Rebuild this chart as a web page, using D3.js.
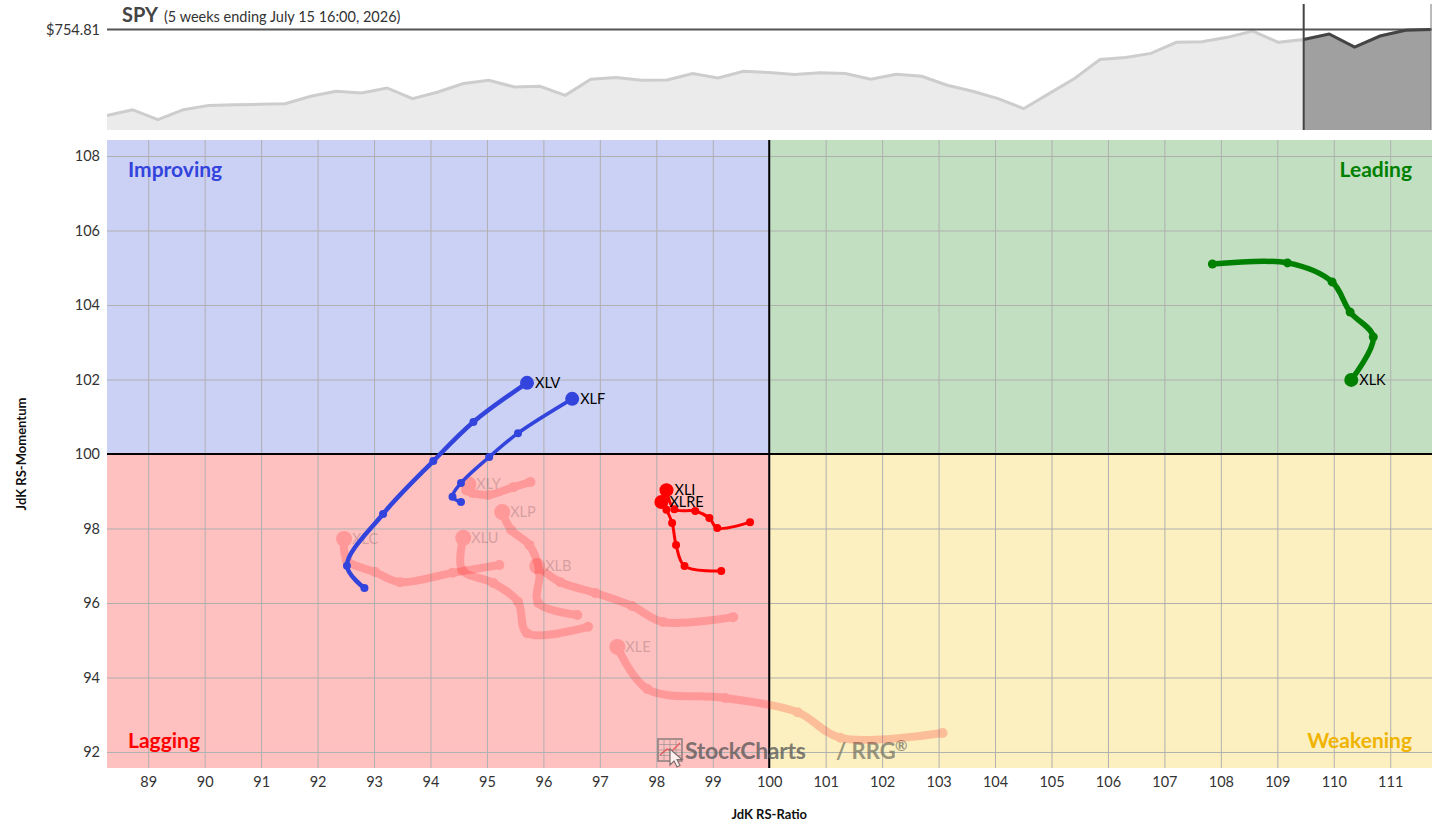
<!DOCTYPE html>
<html>
<head>
<meta charset="utf-8">
<script src="https://cdn.jsdelivr.net/npm/d3@7.9.0/dist/d3.min.js"></script>
<style>
  body { margin: 0; background: #fff; font-family: Lato, "Open Sans", sans-serif; }
  svg text { font-family: Lato, "Open Sans", sans-serif; }
</style>
</head>
<body>
<svg id="chart" width="1437" height="826"></svg>
<script>
// SPY weekly closes shown in the header strip (last 6 = the 5-week tail window)
const spyClose = [677.86, 682.99, 673.99, 682.99, 686.86, 687.49, 687.8, 688.39, 694.96, 699.46,
  697.93, 702.43, 692.89, 698.83, 706.39, 709.36, 703.33, 703.96, 695.86, 710.26,
  711.79, 709.36, 709.6, 715.39, 711.43, 717.46, 716.29, 714.49, 716.0, 715.39,
  710.26, 714.76, 712.96, 704.86, 699.46, 692.89, 683.89, 697.39, 710.89, 727.99,
  729.79, 733.39, 743.29, 743.83, 747.79, 753.46, 743.29, 745.81, 750.76, 739.06,
  748.96, 754.2, 754.81];
const tailWeeks = 5;
const lastPrice = 754.81;

const ratioTicks = d3.range(89, 112);
const momentumTicks = d3.range(92, 109, 2);

// [RS-Ratio, RS-Momentum], oldest -> newest (head)
const XLK = [[107.85, 105.10], [109.18, 105.13], [109.97, 104.62], [110.29, 103.81], [110.70, 103.14], [110.31, 101.99]];
const XLV = [[92.83, 96.40], [92.52, 97.00], [93.16, 98.39], [94.05, 99.81], [94.76, 100.86], [95.71, 101.91]];
const XLF = [[94.54, 98.71], [94.39, 98.85], [94.54, 99.22], [95.04, 99.92], [95.55, 100.56], [96.51, 101.48]];
const XLI = [[99.66, 98.17], [99.08, 98.01], [98.94, 98.28], [98.69, 98.47], [98.32, 98.52], [98.18, 99.03]];
const XLRE = [[99.15, 96.86], [98.50, 96.99], [98.35, 97.56], [98.28, 98.15], [98.18, 98.50], [98.09, 98.71]];
const XLY = [[95.77, 99.25], [95.47, 99.11], [95.02, 98.90], [94.75, 98.95], [94.63, 99.03], [94.67, 99.19]];
const XLP = [[96.60, 95.68], [95.91, 96.00], [95.93, 96.83], [95.75, 97.56], [95.43, 97.96], [95.27, 98.44]];
const XLC = [[95.22, 97.02], [94.39, 96.81], [93.46, 96.56], [93.02, 96.83], [92.52, 97.15], [92.47, 97.72]];
const XLU = [[96.79, 95.36], [95.71, 95.19], [95.55, 96.03], [95.11, 96.54], [94.56, 96.89], [94.58, 97.75]];
const XLB = [[99.36, 95.62], [98.12, 95.49], [97.57, 95.92], [96.92, 96.27], [96.30, 96.56], [95.89, 96.99]];
const XLE = [[103.07, 92.51], [101.26, 92.38], [100.50, 93.07], [99.22, 93.45], [97.84, 93.69], [97.31, 94.82]];

const activeNames = ['XLK', 'XLV', 'XLF', 'XLI', 'XLRE'];
const fadedNames = ['XLY', 'XLP', 'XLC', 'XLU', 'XLB', 'XLE'];
const trails = { XLK, XLV, XLF, XLI, XLRE, XLY, XLP, XLC, XLU, XLB, XLE };

const quadrants = [
  { name: 'Improving', fill: '#cbd0f5', text: '#3344dd', xs: [88, 100], ys: [100, 109] },
  { name: 'Leading', fill: '#c2dfc2', text: '#008000', xs: [100, 112], ys: [100, 109] },
  { name: 'Lagging', fill: '#ffc0c0', text: '#ff0000', xs: [88, 100], ys: [91, 100] },
  { name: 'Weakening', fill: '#fcefc0', text: '#f0b400', xs: [100, 112], ys: [91, 100] },
];

const styles = {
  XLK: { color: '#008000', width: 5.5, dot: 4.5, head: 7 },
  XLV: { color: '#3344dd', width: 4.5, dot: 4, head: 7 },
  XLF: { color: '#3344dd', width: 3.5, dot: 4, head: 7 },
  XLI: { color: '#ff0000', width: 3, dot: 4, head: 7 },
  XLRE: { color: '#ff0000', width: 3, dot: 4, head: 7 },
};

const svg = d3.select('#chart');
const plot = { left: 107, right: 1432, top: 140, bottom: 768 };

const x = d3.scaleLinear().domain([88.27, 111.74]).range([plot.left, plot.right]);
const y = d3.scaleLinear().domain([91.57, 108.43]).range([plot.bottom, plot.top]);

// ---------- header strip ----------
const head = { left: 107, right: 1431, top: 30, bottom: 130 };
const hx = d3.scaleLinear().domain([0, spyClose.length - 1]).range([head.left, head.right]);
const hy = d3.scaleLinear().domain([lastPrice - 100 * 0.9, lastPrice]).range([head.bottom, head.top - 0.5]);
const split = spyClose.length - 1 - tailWeeks;

const area = d3.area().x((d, i) => hx(i)).y0(head.bottom).y1((d) => hy(d));
const line = d3.line().x((d, i) => hx(i)).y((d) => hy(d));

svg.append('path').attr('d', area(spyClose)).attr('fill', '#ebebeb');
svg.append('path').attr('d', line(spyClose)).attr('fill', 'none')
  .attr('stroke', '#cdcdcd').attr('stroke-width', 3);

const tailPts = spyClose.map((d, i) => [i, d]).slice(split);
const areaT = d3.area().x((d) => hx(d[0])).y0(head.bottom).y1((d) => hy(d[1]));
const lineT = d3.line().x((d) => hx(d[0])).y((d) => hy(d[1]));
svg.append('path').attr('d', areaT(tailPts)).attr('fill', '#a0a0a0');

svg.append('line').attr('x1', head.left).attr('x2', head.right + 1)
  .attr('y1', hy(lastPrice)).attr('y2', hy(lastPrice))
  .attr('stroke', '#555').attr('stroke-width', 2);
svg.append('path').attr('d', lineT(tailPts)).attr('fill', 'none')
  .attr('stroke', '#444').attr('stroke-width', 3);

svg.append('line').attr('x1', hx(split)).attr('x2', hx(split)).attr('y1', 4).attr('y2', head.bottom)
  .attr('stroke', '#444').attr('stroke-width', 2);
svg.append('line').attr('x1', head.right).attr('x2', head.right).attr('y1', 4).attr('y2', head.bottom)
  .attr('stroke', '#777').attr('stroke-width', 1);

svg.append('text').attr('x', 100).attr('y', 35).attr('text-anchor', 'end')
  .attr('font-size', 14.5).attr('fill', '#333').text('$' + d3.format('.2f')(lastPrice));

const title = svg.append('text').attr('x', 122).attr('y', 22).attr('fill', '#444');
title.append('tspan').attr('font-size', 20).attr('font-weight', 'bold').text('SPY');
title.append('tspan').attr('dx', 6).attr('font-size', 14.5).attr('fill', '#333')
  .text('(5 weeks ending July 15 16:00, 2026)');

// ---------- quadrants ----------
svg.append('clipPath').attr('id', 'plotclip').append('rect')
  .attr('x', plot.left).attr('y', plot.top)
  .attr('width', plot.right - plot.left).attr('height', plot.bottom - plot.top);

const g = svg.append('g').attr('clip-path', 'url(#plotclip)');

g.selectAll('rect.q').data(quadrants).join('rect').attr('class', 'q')
  .attr('x', (d) => x(d.xs[0])).attr('width', (d) => x(d.xs[1]) - x(d.xs[0]))
  .attr('y', (d) => y(d.ys[1])).attr('height', (d) => y(d.ys[0]) - y(d.ys[1]))
  .attr('fill', (d) => d.fill);

g.append('g').attr('transform', `translate(0,${plot.bottom})`)
  .call(d3.axisBottom(x).tickValues(ratioTicks).tickSize(-(plot.bottom - plot.top)).tickFormat(''))
  .call((a) => a.select('.domain').remove())
  .call((a) => a.selectAll('line').attr('stroke', '#b0b0b0').attr('stroke-width', 1));
g.append('g').attr('transform', `translate(${plot.left},0)`)
  .call(d3.axisLeft(y).tickValues(momentumTicks).tickSize(-(plot.right - plot.left)).tickFormat(''))
  .call((a) => a.select('.domain').remove())
  .call((a) => a.selectAll('line').attr('stroke', '#b0b0b0').attr('stroke-width', 1));

g.append('line').attr('x1', x(100)).attr('x2', x(100)).attr('y1', plot.top).attr('y2', plot.bottom)
  .attr('stroke', '#000').attr('stroke-width', 2);
g.append('line').attr('x1', plot.left).attr('x2', plot.right).attr('y1', y(100)).attr('y2', y(100))
  .attr('stroke', '#000').attr('stroke-width', 2);

// quadrant names
const qlab = [
  { q: quadrants[0], x: plot.left + 21, y: 177, anchor: 'start' },
  { q: quadrants[1], x: plot.right - 20, y: 177, anchor: 'end' },
  { q: quadrants[2], x: plot.left + 21, y: 748, anchor: 'start' },
  { q: quadrants[3], x: plot.right - 20, y: 748, anchor: 'end' },
];
g.selectAll('text.ql').data(qlab).join('text').attr('class', 'ql')
  .attr('x', (d) => d.x).attr('y', (d) => d.y).attr('text-anchor', (d) => d.anchor)
  .attr('font-size', 21).attr('font-weight', 'bold').attr('fill', (d) => d.q.text)
  .text((d) => d.q.name);

// watermark
const wm = g.append('g').attr('opacity', 0.75);
const ix = 658, iy = 739;
wm.append('rect').attr('x', ix).attr('y', iy).attr('width', 24).attr('height', 22)
  .attr('fill', 'none').attr('stroke', '#666').attr('stroke-width', 1.5);
d3.range(1, 4).forEach((k) => {
  wm.append('line').attr('x1', ix + k * 6).attr('x2', ix + k * 6).attr('y1', iy).attr('y2', iy + 22)
    .attr('stroke', '#888').attr('stroke-width', 0.8);
  wm.append('line').attr('x1', ix).attr('x2', ix + 24).attr('y1', iy + k * 5.5).attr('y2', iy + k * 5.5)
    .attr('stroke', '#888').attr('stroke-width', 0.8);
});
wm.append('path').attr('d', `M${ix + 2},${iy + 16} L${ix + 9},${iy + 10} L${ix + 14},${iy + 12} L${ix + 22},${iy + 4}`)
  .attr('fill', 'none').attr('stroke', '#d33').attr('stroke-width', 1.2);
wm.append('path').attr('d', `M${ix + 12},${iy + 10} l0,16 l4,-4 l3,6 l3,-1.5 l-3,-6 l5,0 z`)
  .attr('fill', '#fff').attr('stroke', '#555').attr('stroke-width', 1.2);
wm.append('text').attr('x', 685).attr('y', 759).attr('font-size', 23).attr('font-weight', 'bold')
  .attr('fill', '#555').attr('letter-spacing', -0.3).text('StockCharts');
wm.append('text').attr('x', 836).attr('y', 759).attr('font-size', 22).attr('font-weight', 'bold')
  .attr('fill', '#777766').text('/ RRG');
wm.append('text').attr('x', 895).attr('y', 751).attr('font-size', 15).attr('font-weight', 'bold')
  .attr('fill', '#777766').text('®');

// ---------- trails ----------
const trailLine = d3.line().x((d) => x(d[0])).y((d) => y(d[1])).curve(d3.curveCatmullRom.alpha(0.5));

const faded = g.append('g');
fadedNames.forEach((name) => {
  const pts = trails[name];
  const h = pts[pts.length - 1];
  const tg = faded.append('g').attr('opacity', 0.2);
  tg.append('path').attr('d', trailLine(pts)).attr('fill', 'none')
    .attr('stroke', '#ff0000').attr('stroke-width', 8).attr('stroke-linecap', 'round')
    .attr('stroke-linejoin', 'round');
  tg.selectAll('circle').data(pts.slice(0, -1)).join('circle')
    .attr('cx', (d) => x(d[0])).attr('cy', (d) => y(d[1])).attr('r', 5).attr('fill', '#ff0000');
  tg.append('circle').attr('cx', x(h[0])).attr('cy', y(h[1])).attr('r', 8).attr('fill', '#ff0000');
  faded.append('text').attr('x', x(h[0]) + 8).attr('y', y(h[1]) + 5)
    .attr('font-size', 14.5).attr('fill', '#000').attr('opacity', 0.17).text(name);
});

const active = g.append('g');
activeNames.forEach((name) => {
  const pts = trails[name];
  const s = styles[name];
  const h = pts[pts.length - 1];
  active.append('path').attr('d', trailLine(pts)).attr('fill', 'none')
    .attr('stroke', s.color).attr('stroke-width', s.width).attr('stroke-linecap', 'round')
    .attr('stroke-linejoin', 'round');
  active.append('g').selectAll('circle').data(pts.slice(0, -1)).join('circle')
    .attr('cx', (d) => x(d[0])).attr('cy', (d) => y(d[1])).attr('r', s.dot).attr('fill', s.color);
  active.append('circle').attr('cx', x(h[0])).attr('cy', y(h[1])).attr('r', s.head).attr('fill', s.color);
});
activeNames.forEach((name) => {
  const pts = trails[name];
  const h = pts[pts.length - 1];
  active.append('text').attr('x', x(h[0]) + 8).attr('y', y(h[1]) + 5)
    .attr('font-size', 14.5).attr('fill', '#000').text(name);
});

// ---------- axes ----------
svg.append('g').attr('transform', `translate(0,${plot.bottom})`)
  .call(d3.axisBottom(x).tickValues(ratioTicks).tickSize(0).tickPadding(9).tickFormat(d3.format('d')))
  .call((a) => a.select('.domain').remove())
  .call((a) => a.selectAll('text').attr('font-size', 14.5).attr('fill', '#333')
    .attr('font-family', 'Lato, sans-serif'));
svg.append('g').attr('transform', `translate(${plot.left},0)`)
  .call(d3.axisLeft(y).tickValues(momentumTicks).tickSize(0).tickPadding(7).tickFormat(d3.format('d')))
  .call((a) => a.select('.domain').remove())
  .call((a) => a.selectAll('text').attr('font-size', 14.5).attr('fill', '#333')
    .attr('font-family', 'Lato, sans-serif'));

svg.append('text').attr('x', x(100)).attr('y', 819).attr('text-anchor', 'middle')
  .attr('font-size', 13).attr('font-weight', 'bold').attr('fill', '#111').text('JdK RS-Ratio');
svg.append('text').attr('transform', `translate(26,${y(100)}) rotate(-90)`).attr('text-anchor', 'middle')
  .attr('font-size', 13).attr('font-weight', 'bold').attr('fill', '#111').text('JdK RS-Momentum');
</script>
</body>
</html>
